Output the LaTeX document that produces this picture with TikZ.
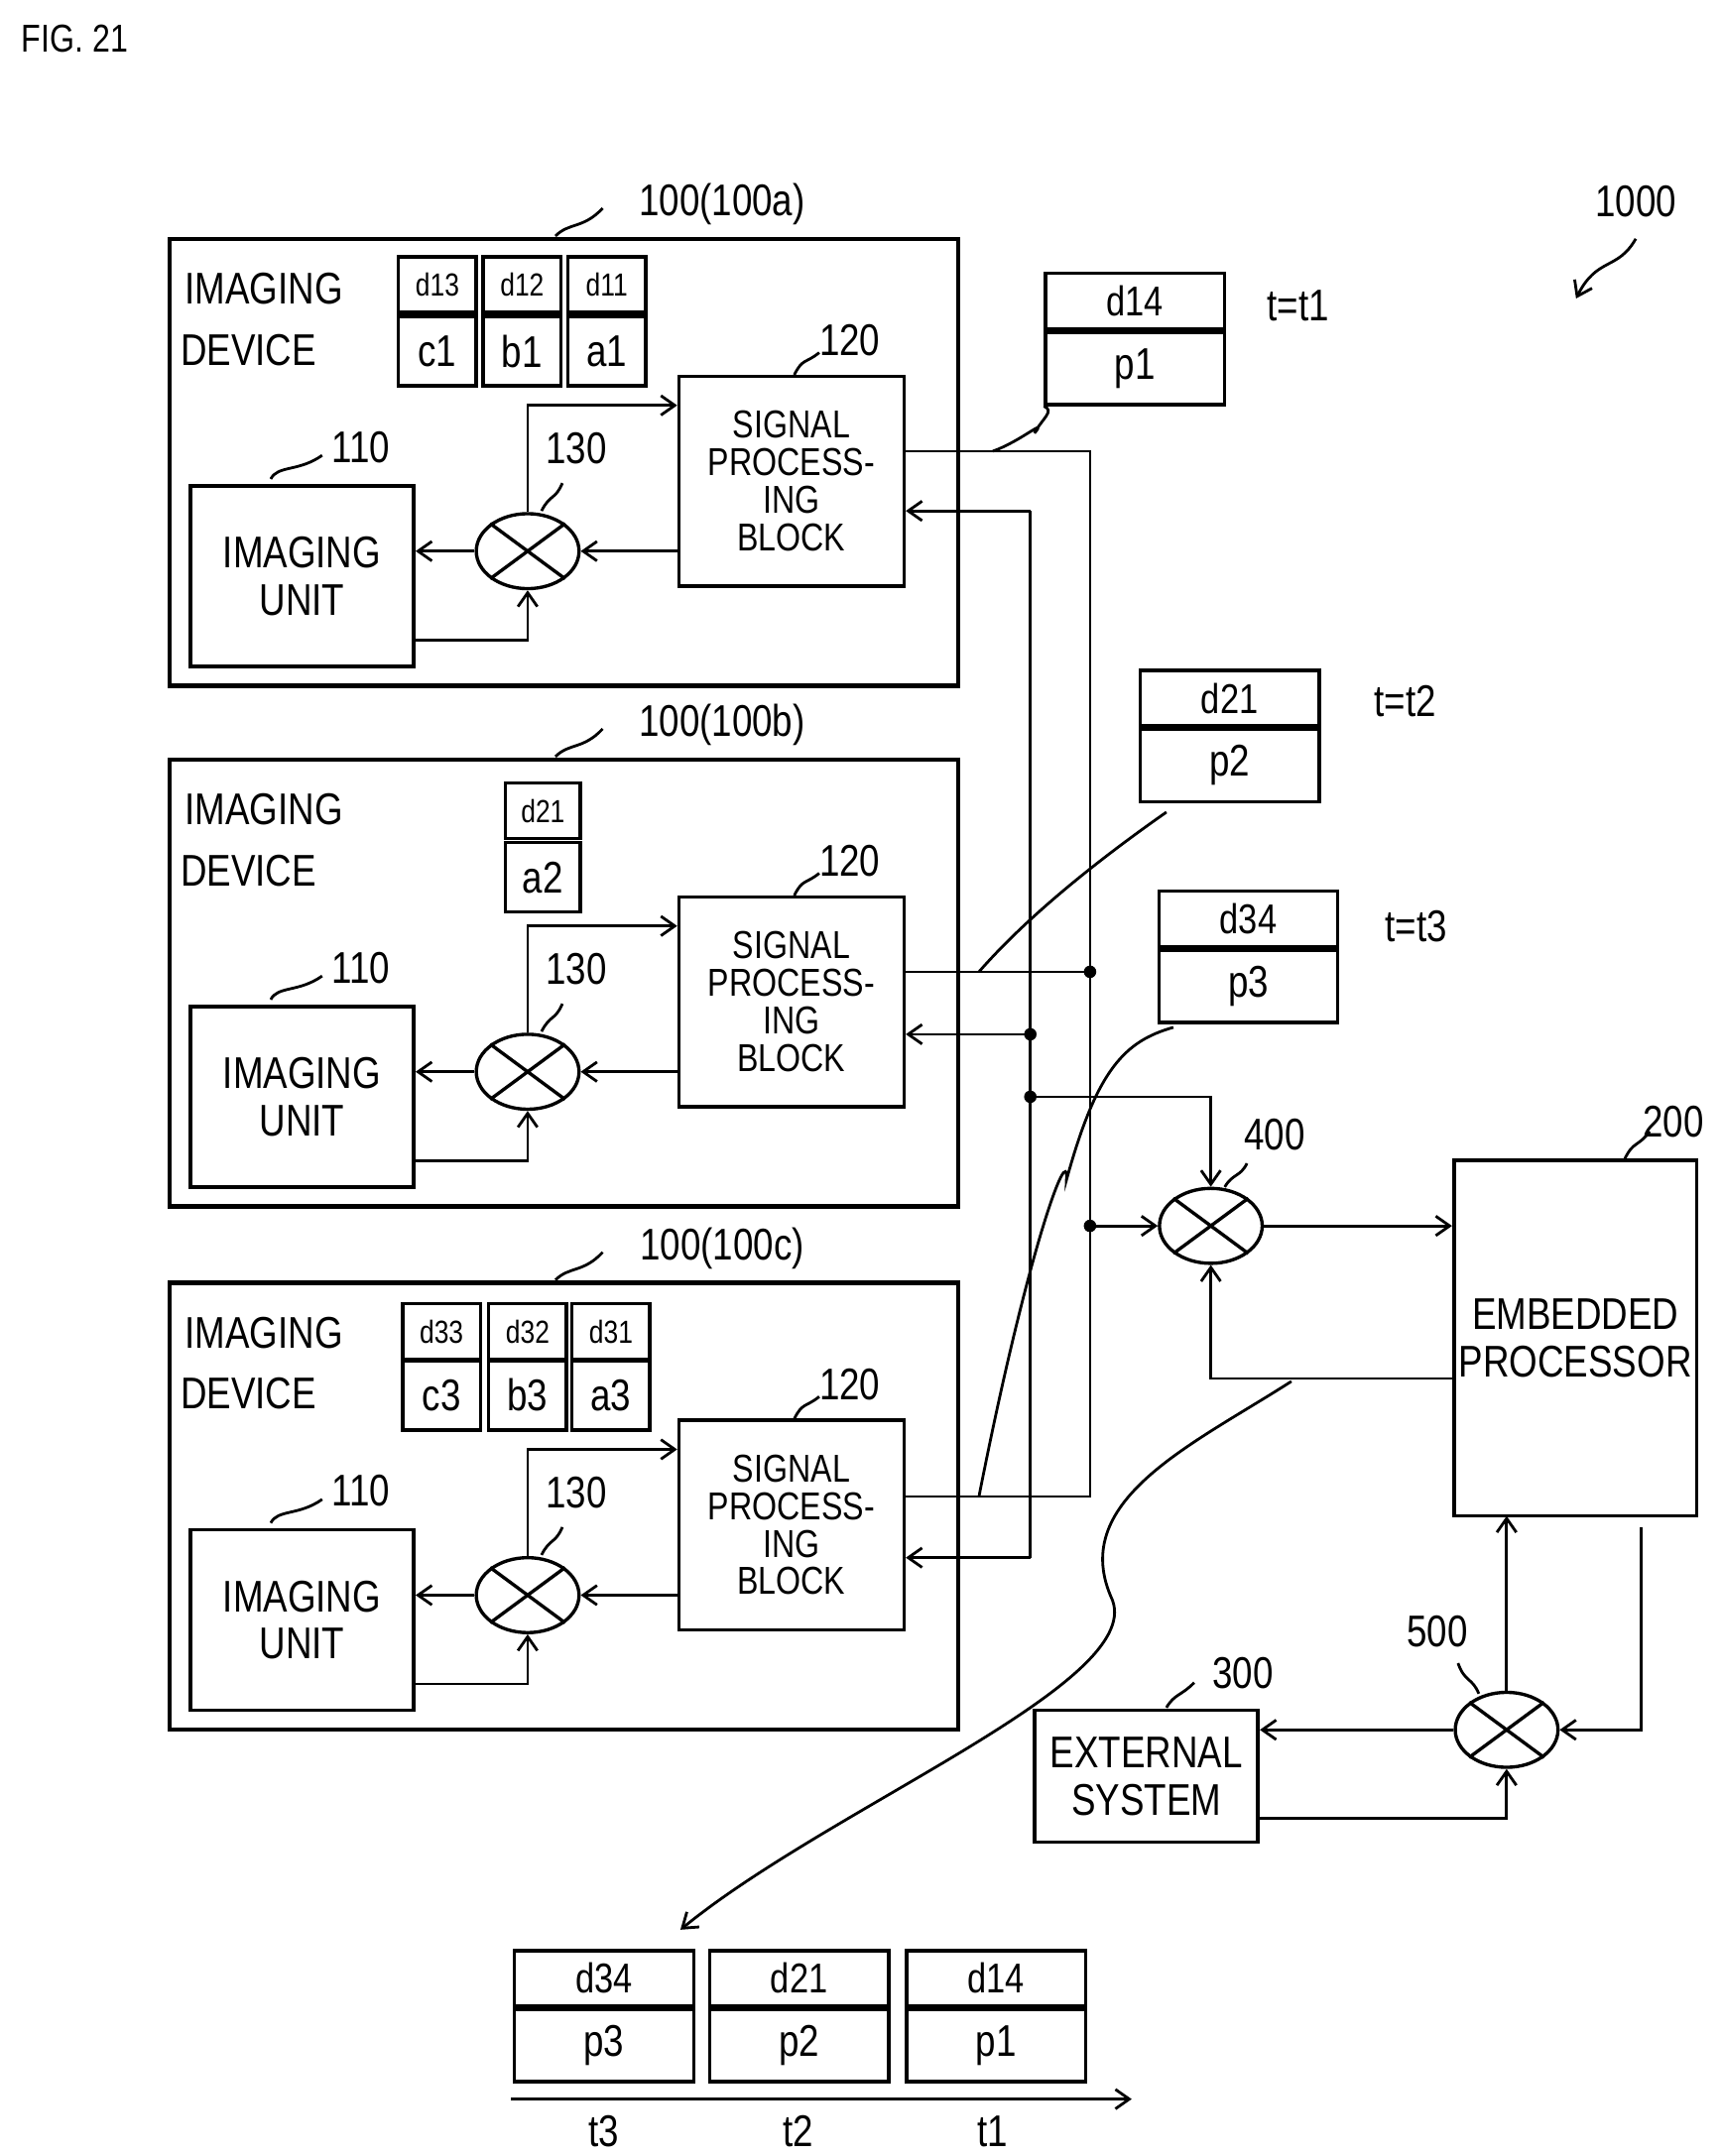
\documentclass[tikz,border=0pt]{standalone}
\usepackage{fontspec}
\setmainfont{Liberation Sans}[FakeStretch=0.82]
\usetikzlibrary{shapes.geometric,arrows.meta}
\begin{document}
\begin{tikzpicture}[x=1pt,y=-1pt,
  big/.style={draw,line width=3pt,inner sep=0pt},
  blk/.style={draw,line width=2.6pt,inner sep=0pt,align=center,font=\fontsize{32}{30}\selectfont},
  sm/.style={draw,line width=2.4pt,inner sep=0pt,font=\fontsize{23}{23}\selectfont},
  smb/.style={draw,line width=2.4pt,inner sep=0pt,font=\fontsize{32}{32}\selectfont},
  mix/.style={draw,ellipse,line width=2.4pt,minimum width=74pt,minimum height=54pt,inner sep=0pt},
  ln/.style={line width=2pt},
  ar/.style={line width=2pt,-{Straight Barb[length=10pt,width=14pt]}},
  lb/.style={font=\fontsize{32}{32}\selectfont,inner sep=0pt},
  dot/.style={circle,fill,inner sep=0pt,minimum size=9pt}]
\useasboundingbox (0,0) rectangle (1240,1553);
\node[anchor=west,font=\fontsize{28}{28}\selectfont] (fig) at (12,28) {FIG. 21};
\node[lb] (l1000) at (1178,145) {1000};
\draw[ar] (1178,172) .. controls (1165,195) and (1150,185) .. (1135,215);

\foreach \o/\s/\n in {0/a/1,375/b/2,752/c/3}{
  \node[big,minimum width=568pt,minimum height=322pt] (dev\n) at (406,333+\o) {};
  \node[lb,anchor=west] (lid\n) at (133,208+\o) {IMAGING};
  \node[lb,anchor=west] (lde\n) at (130,252+\o) {DEVICE};
  \node[lb] (lab\n) at (520,147+\o) {100(100\s)};
  \draw[ln] (400,170+\o) .. controls (410,160+\o) and (420,165+\o) .. (434,150+\o);
  \node[blk,minimum width=161pt,minimum height=130pt] (iu\n) at (217.5,415+\o) {IMAGING\\[4pt]UNIT};
  \node[lb] (l110\n) at (260,322+\o) {110};
  \draw[ln] (195,345+\o) .. controls (200,335+\o) and (215,340+\o) .. (232,328+\o);
  \node[blk,minimum width=162pt,minimum height=151pt,font=\fontsize{28}{27}\selectfont] (sp\n) at (570,346.5+\o) {SIGNAL\\PROCESS-\\ING\\BLOCK};
  \node[lb] (l120\n) at (612,245+\o) {120};
  \draw[ln] (572,270+\o) .. controls (578,258+\o) and (580,262+\o) .. (590,254+\o);
  \node[mix] (mx\n) at (380,397+\o) {};
  \draw[line width=2.4pt] (mx\n.north west)--(mx\n.south east) (mx\n.north east)--(mx\n.south west);
  \node[lb] (l130\n) at (415,323+\o) {130};
  \draw[ln] (390,368+\o) .. controls (396,356+\o) and (400,360+\o) .. (405,348+\o);
  \draw[ar] (sp\n.west |- mx\n) -- (mx\n.east);
  \draw[ar] (mx\n.west) -- (iu\n.east |- mx\n);
  \draw[ar] (298,461+\o) -- (380,461+\o) -- (mx\n.south);
  \draw[ar] (mx\n.north) -- (380,292+\o) -- (sp\n.west |- 0,292+\o);
}
% small data boxes
\foreach \x/\d/\v/\k in {315/d13/c1/1,376/d12/b1/2,437/d11/a1/3}{
  \node[sm,minimum width=56pt,minimum height=40pt] (s\k) at (\x,205) {\d};
  \node[smb,minimum width=56pt,minimum height=50pt] (v\k) at (\x,253) {\v};
}
\node[sm,minimum width=54pt,minimum height=40pt] (s4) at (391,584) {d21};
\node[smb,minimum width=54pt,minimum height=50pt] (v4) at (391,632) {a2};
\foreach \x/\d/\v/\k in {318/d33/c3/5,380/d32/b3/6,440/d31/a3/7}{
  \node[sm,minimum width=56pt,minimum height=40pt] (s\k) at (\x,959) {\d};
  \node[smb,minimum width=56pt,minimum height=50pt] (v\k) at (\x,1005) {\v};
}
% bus
\coordinate (b1) at (785,700); \coordinate (b2) at (785,883);
\coordinate (c1) at (742,745); \coordinate (c2) at (742,790);
\draw[ln] (sp1.east |- 0,325) -- (785,325) -- (785,1078) -- (sp3.east |- 0,1078);
\draw[ln] (sp2.east |- b1) -- (b1);
\draw[ar] (742,368) -- (sp1.east |- 0,368);
\draw[ln] (742,368) -- (742,1122);
\draw[ar] (c1) -- (sp2.east |- c1);
\draw[ar] (742,1122) -- (sp3.east |- 0,1122);
\node[dot] (db1) at (b1) {}; \node[dot] (db2) at (b2) {};
\node[dot] (dc1) at (c1) {}; \node[dot] (dc2) at (c2) {};
\node[mix] (m4) at (872,883) {};
\draw[line width=2.4pt] (m4.north west)--(m4.south east) (m4.north east)--(m4.south west);
\node[lb] (l400) at (918,817) {400};
\draw[ln] (882,855) .. controls (888,845) and (893,848) .. (898,838);
\draw[ar] (b2) -- (m4.west);
\draw[ar] (c2) -- (872,790) -- (m4.north);
\node[blk,minimum width=175pt,minimum height=256pt] (ep) at (1134.5,964) {EMBEDDED\\[4pt]PROCESSOR};
\node[lb] (l200) at (1205,808) {200};
\draw[ln] (1170,835) .. controls (1176,822) and (1180,826) .. (1188,815);
\draw[ar] (m4.east) -- (ep.west |- m4);
\draw[ar] (ep.west |- 0,993) -- (872,993) -- (m4.south);
\node[mix] (m5) at (1085,1246) {};
\draw[line width=2.4pt] (m5.north west)--(m5.south east) (m5.north east)--(m5.south west);
\node[lb] (l500) at (1035,1175) {500};
\draw[ln] (1065,1220) .. controls (1060,1208) and (1055,1212) .. (1050,1198);
\node[blk,minimum width=161pt,minimum height=95pt] (ex) at (825.5,1279.5) {EXTERNAL\\[4pt]SYSTEM};
\node[lb] (l300) at (895,1205) {300};
\draw[ln] (840,1230) .. controls (846,1220) and (850,1222) .. (860,1212);
\draw[ar] (1182,1100) -- (1182,1246) -- (m5.east);
\draw[ar] (m5.north) -- (1085,1092);
\draw[ar] (m5.west) -- (ex.east |- m5);
\draw[ar] (906,1310) -- (1085,1310) -- (m5.south);
% packets
\foreach \x/\y/\d/\p/\k in {817.5/217/d14/p1/1,885.5/503/d21/p2/2,899/662/d34/p3/3,435/1425/d34/p3/4,575.5/1425/d21/p2/5,717.5/1425/d14/p1/6}{
  \node[smb,minimum width=129pt,minimum height=40pt,font=\fontsize{30}{30}\selectfont] (pt\k) at (\x,\y) {\d};
  \node[smb,minimum width=129pt,minimum height=52pt,anchor=north] (pb\k) at (pt\k.south) {\p};
}
\node[lb] (t1) at (935,220) {t=t1};
\node[lb] (t2) at (1012,505) {t=t2};
\node[lb] (t3) at (1020,667) {t=t3};
\draw[ln] (715,325) .. controls (735,318) and (755,300) .. (745,312) .. controls (750,302) and (760,296) .. (pb1.south west);
\draw[ln] (705,700) .. controls (740,660) and (790,620) .. (840,585);
\draw[ln] (705,1078) .. controls (740,900) and (770,820) .. (768,850) .. controls (790,770) and (810,750) .. (845,740);
\draw[ar] (930,995) .. controls (860,1040) and (770,1080) .. (800,1150) .. controls (830,1210) and (600,1300) .. (490,1390);
\draw[ar] (368,1512) -- (815,1512);
\node[lb] (a3) at (435,1535) {t3};
\node[lb] (a2) at (575,1535) {t2};
\node[lb] (a1) at (715,1535) {t1};
\end{tikzpicture}
\end{document}
